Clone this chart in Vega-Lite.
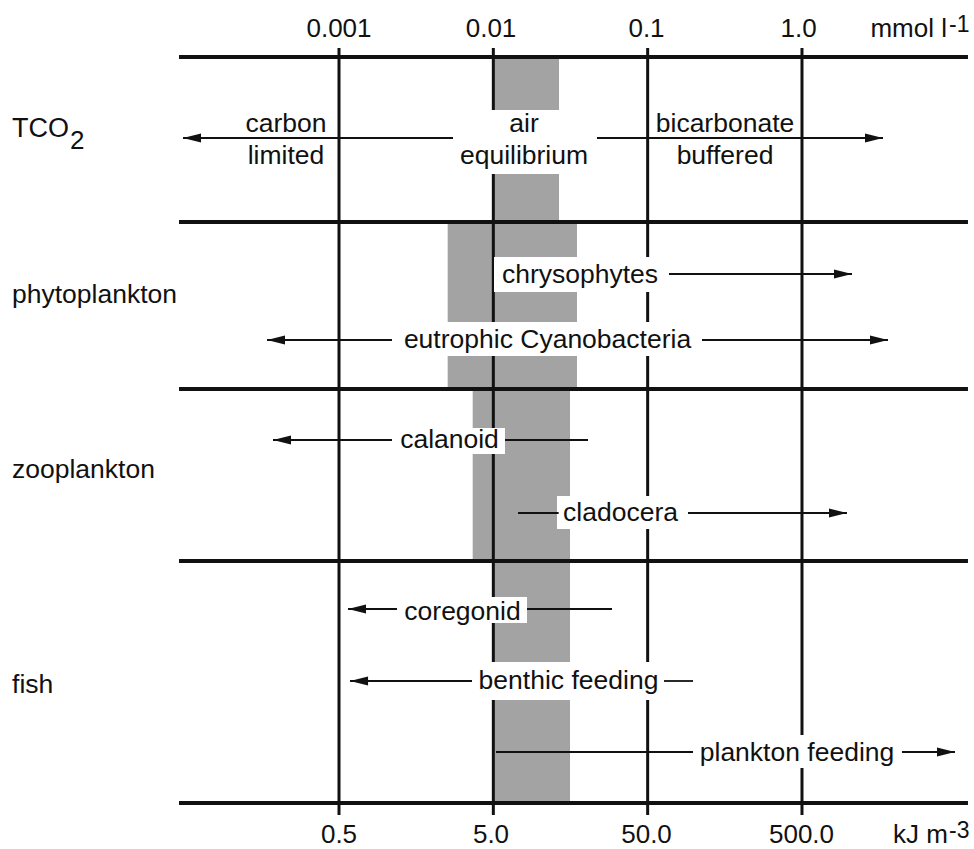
{
  "$schema": "https://vega.github.io/schema/vega-lite/v6.json",
  "width": 974,
  "height": 849,
  "autosize": {"type": "fit", "contains": "padding"},
  "padding": 0,
  "background": "white",
  "config": {"view": {"stroke": null}},
  "datasets": {
    "bands": [
      {"x1": 0.01, "x2": 0.02664, "y1": 57, "y2": 222},
      {"x1": 0.00506, "x2": 0.03484, "y1": 222, "y2": 389},
      {"x1": 0.007349, "x2": 0.03139, "y1": 389, "y2": 561},
      {"x1": 0.01, "x2": 0.03139, "y1": 561, "y2": 803}
    ],
    "vlines": [
      {"x": 0.001, "y1": 48, "y2": 815},
      {"x": 0.01, "y1": 48, "y2": 815},
      {"x": 0.1, "y1": 48, "y2": 815},
      {"x": 1, "y1": 48, "y2": 815}
    ],
    "hlines": [
      {"x1": 0.0000919, "x2": 11.9, "y": 57},
      {"x1": 0.0000919, "x2": 11.9, "y": 222},
      {"x1": 0.0000919, "x2": 11.9, "y": 389},
      {"x1": 0.0000919, "x2": 11.9, "y": 561},
      {"x1": 0.0000919, "x2": 11.9, "y": 803}
    ],
    "boxes": [
      {"x1": 0.005643, "x2": 0.04558, "y1": 110, "y2": 174},
      {"x1": 0.0101, "x2": 0.1296, "y1": 257, "y2": 292},
      {"x1": 0.00234, "x2": 0.2151, "y1": 322, "y2": 356},
      {"x1": 0.00234, "x2": 0.0119, "y1": 428, "y2": 454},
      {"x1": 0.02586, "x2": 0.172, "y1": 496, "y2": 529},
      {"x1": 0.002412, "x2": 0.01653, "y1": 597, "y2": 623},
      {"x1": 0.007605, "x2": 0.1239, "y1": 662, "y2": 700},
      {"x1": 0.2026, "x2": 4.252, "y1": 735, "y2": 768}
    ],
    "segments": [
      {"x1": 0.00009754, "x2": 0.005479, "y": 138},
      {"x1": 0.04695, "x2": 3.349, "y": 138},
      {"x1": 0.1375, "x2": 2.109, "y": 274},
      {"x1": 0.0003416, "x2": 0.002205, "y": 340},
      {"x1": 0.225, "x2": 3.608, "y": 340},
      {"x1": 0.0003736, "x2": 0.002205, "y": 440},
      {"x1": 0.0119, "x2": 0.04106, "y": 440},
      {"x1": 0.01445, "x2": 0.0265, "y": 513},
      {"x1": 0.1826, "x2": 1.957, "y": 513},
      {"x1": 0.001144, "x2": 0.002376, "y": 609},
      {"x1": 0.01653, "x2": 0.05875, "y": 609},
      {"x1": 0.001179, "x2": 0.007273, "y": 681},
      {"x1": 0.1276, "x2": 0.1967, "y": 681},
      {"x1": 0.01041, "x2": 0.1967, "y": 752},
      {"x1": 4.446, "x2": 9.804, "y": 752}
    ],
    "heads": [
      {"x": 0.00009754, "y": 138, "dir": "L"},
      {"x": 3.349, "y": 138, "dir": "R"},
      {"x": 2.109, "y": 274, "dir": "R"},
      {"x": 0.0003416, "y": 340, "dir": "L"},
      {"x": 3.608, "y": 340, "dir": "R"},
      {"x": 0.0003736, "y": 440, "dir": "L"},
      {"x": 1.957, "y": 513, "dir": "R"},
      {"x": 0.001144, "y": 609, "dir": "L"},
      {"x": 0.001179, "y": 681, "dir": "L"},
      {"x": 9.804, "y": 752, "dir": "R"}
    ],
    "labels_center": [
      {"x": 0.0004535, "y": 132, "t": "carbon", "s": 26.5},
      {"x": 0.0004535, "y": 164, "t": "limited", "s": 26.5},
      {"x": 0.0158, "y": 132, "t": "air", "s": 26.5},
      {"x": 0.0158, "y": 164, "t": "equilibrium", "s": 26.5},
      {"x": 0.3171, "y": 132, "t": "bicarbonate", "s": 26.5},
      {"x": 0.3171, "y": 164, "t": "buffered", "s": 26.5},
      {"x": 0.03644, "y": 283, "t": "chrysophytes", "s": 26.5},
      {"x": 0.02244, "y": 348, "t": "eutrophic Cyanobacteria", "s": 26.5},
      {"x": 0.0052, "y": 448, "t": "calanoid", "s": 26.5},
      {"x": 0.06668, "y": 521, "t": "cladocera", "s": 26.5},
      {"x": 0.006313, "y": 620, "t": "coregonid", "s": 26.5},
      {"x": 0.03069, "y": 689, "t": "benthic feeding", "s": 26.5},
      {"x": 0.9283, "y": 761, "t": "plankton feeding", "s": 26.5},
      {"x": 0.001, "y": 37, "t": "0.001", "s": 26},
      {"x": 0.00966, "y": 37, "t": "0.01", "s": 26},
      {"x": 0.0983, "y": 37, "t": "0.1", "s": 26},
      {"x": 0.95, "y": 37, "t": "1.0", "s": 26},
      {"x": 0.001, "y": 843, "t": "0.5", "s": 26},
      {"x": 0.00966, "y": 843, "t": "5.0", "s": 26},
      {"x": 0.0983, "y": 843, "t": "50.0", "s": 26},
      {"x": 0.9927, "y": 843, "t": "500.0", "s": 26}
    ],
    "labels_left": [
      {"x": 0.000007606, "y": 137, "t": "TCO", "s": 27},
      {"x": 0.00001807, "y": 149, "t": "2", "s": 26},
      {"x": 0.000007606, "y": 303, "t": "phytoplankton", "s": 26.5},
      {"x": 0.000007606, "y": 478, "t": "zooplankton", "s": 26.5},
      {"x": 0.000007606, "y": 693, "t": "fish", "s": 26.5},
      {"x": 8.967, "y": 32, "t": "-1", "s": 23},
      {"x": 8.967, "y": 838, "t": "-3", "s": 23}
    ],
    "labels_right": [
      {"x": 8.702, "y": 37, "t": "mmol l", "s": 26},
      {"x": 8.834, "y": 843, "t": "kJ m", "s": 26}
    ]
  },
  "layer": [
    {
      "data": {"name": "bands"},
      "mark": {"type": "rect", "color": "#a3a3a3"},
      "encoding": {
        "x": {"field": "x1", "type": "quantitative", "scale": {"type": "log", "domain": [0.0000063578, 13.02], "nice": false}, "axis": null},
        "x2": {"field": "x2"},
        "y": {"field": "y1", "type": "quantitative", "scale": {"domain": [0, 849], "reverse": true, "nice": false, "zero": false}, "axis": null},
        "y2": {"field": "y2"}
      }
    },
    {
      "data": {"name": "vlines"},
      "mark": {"type": "rule", "color": "#111111", "strokeWidth": 3},
      "encoding": {
        "x": {"field": "x", "type": "quantitative", "scale": {"type": "log", "domain": [0.0000063578, 13.02], "nice": false}, "axis": null},
        "y": {"field": "y1", "type": "quantitative", "scale": {"domain": [0, 849], "reverse": true, "nice": false, "zero": false}, "axis": null},
        "y2": {"field": "y2"}
      }
    },
    {
      "data": {"name": "hlines"},
      "mark": {"type": "rule", "color": "#111111", "strokeWidth": 4},
      "encoding": {
        "x": {"field": "x1", "type": "quantitative", "scale": {"type": "log", "domain": [0.0000063578, 13.02], "nice": false}, "axis": null},
        "x2": {"field": "x2"},
        "y": {"field": "y", "type": "quantitative", "scale": {"domain": [0, 849], "reverse": true, "nice": false, "zero": false}, "axis": null}
      }
    },
    {
      "data": {"name": "boxes"},
      "mark": {"type": "rect", "color": "white"},
      "encoding": {
        "x": {"field": "x1", "type": "quantitative", "scale": {"type": "log", "domain": [0.0000063578, 13.02], "nice": false}, "axis": null},
        "x2": {"field": "x2"},
        "y": {"field": "y1", "type": "quantitative", "scale": {"domain": [0, 849], "reverse": true, "nice": false, "zero": false}, "axis": null},
        "y2": {"field": "y2"}
      }
    },
    {
      "data": {"name": "segments"},
      "mark": {"type": "rule", "color": "#111111", "strokeWidth": 1.8},
      "encoding": {
        "x": {"field": "x1", "type": "quantitative", "scale": {"type": "log", "domain": [0.0000063578, 13.02], "nice": false}, "axis": null},
        "x2": {"field": "x2"},
        "y": {"field": "y", "type": "quantitative", "scale": {"domain": [0, 849], "reverse": true, "nice": false, "zero": false}, "axis": null}
      }
    },
    {
      "data": {"name": "heads"},
      "mark": {"type": "point", "filled": true, "size": 324, "opacity": 1, "color": "#111111", "strokeWidth": 0},
      "encoding": {
        "x": {"field": "x", "type": "quantitative", "scale": {"type": "log", "domain": [0.0000063578, 13.02], "nice": false}, "axis": null},
        "y": {"field": "y", "type": "quantitative", "scale": {"domain": [0, 849], "reverse": true, "nice": false, "zero": false}, "axis": null},
        "shape": {"field": "dir", "type": "nominal", "scale": {"domain": ["L", "R"], "range": ["M0,0L2,-0.5L2,0.5Z", "M0,0L-2,-0.5L-2,0.5Z"]}, "legend": null}
      }
    },
    {
      "data": {"name": "labels_center"},
      "mark": {"type": "text", "align": "center", "baseline": "alphabetic", "color": "#111111", "font": "Liberation Sans"},
      "encoding": {
        "x": {"field": "x", "type": "quantitative", "scale": {"type": "log", "domain": [0.0000063578, 13.02], "nice": false}, "axis": null},
        "y": {"field": "y", "type": "quantitative", "scale": {"domain": [0, 849], "reverse": true, "nice": false, "zero": false}, "axis": null},
        "text": {"field": "t", "type": "nominal"},
        "size": {"field": "s", "type": "quantitative", "scale": null, "legend": null}
      }
    },
    {
      "data": {"name": "labels_left"},
      "mark": {"type": "text", "align": "left", "baseline": "alphabetic", "color": "#111111", "font": "Liberation Sans"},
      "encoding": {
        "x": {"field": "x", "type": "quantitative", "scale": {"type": "log", "domain": [0.0000063578, 13.02], "nice": false}, "axis": null},
        "y": {"field": "y", "type": "quantitative", "scale": {"domain": [0, 849], "reverse": true, "nice": false, "zero": false}, "axis": null},
        "text": {"field": "t", "type": "nominal"},
        "size": {"field": "s", "type": "quantitative", "scale": null, "legend": null}
      }
    },
    {
      "data": {"name": "labels_right"},
      "mark": {"type": "text", "align": "right", "baseline": "alphabetic", "color": "#111111", "font": "Liberation Sans"},
      "encoding": {
        "x": {"field": "x", "type": "quantitative", "scale": {"type": "log", "domain": [0.0000063578, 13.02], "nice": false}, "axis": null},
        "y": {"field": "y", "type": "quantitative", "scale": {"domain": [0, 849], "reverse": true, "nice": false, "zero": false}, "axis": null},
        "text": {"field": "t", "type": "nominal"},
        "size": {"field": "s", "type": "quantitative", "scale": null, "legend": null}
      }
    }
  ]
}
